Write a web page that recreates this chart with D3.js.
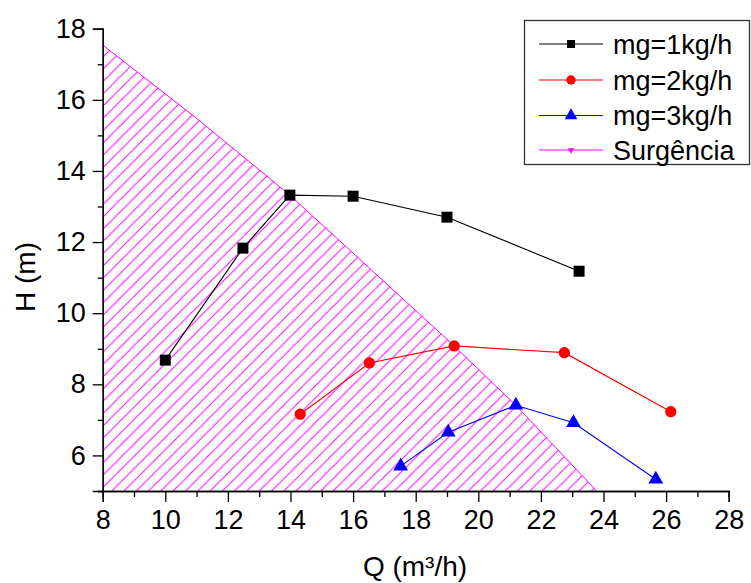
<!DOCTYPE html>
<html><head><meta charset="utf-8">
<script src="https://cdn.jsdelivr.net/npm/d3@7"></script>
<style>body{margin:0;background:#fff}svg{display:block}</style>
</head><body>
<svg id="c" width="751" height="583"></svg>
<script>
const xTicks = [8,10,12,14,16,18,20,22,24,26,28];
const yTicks = [6,8,10,12,14,16,18];
const seriesNames = ["mg=1kg/h","mg=2kg/h","mg=3kg/h","Surgência"];
const q1 = [10.0,12.48,13.98,16.0,19.0,23.22];
const h1 = [8.68,11.83,13.32,13.29,12.70,11.18];
const q2 = [14.31,16.52,19.23,22.75,26.15];
const h2 = [7.16,8.60,9.08,8.89,7.23];
const q3 = [17.52,19.04,21.2,23.04,25.67];
const h3 = [5.70,6.65,7.41,6.92,5.33];
const qS = [8.0,11.0,13.98,19.23,21.2,23.78];
const hS = [17.54,15.48,13.32,9.08,7.41,5.0];

const svg = d3.select("#c");
const font = "Liberation Sans, Arial, sans-serif";
const x = d3.scaleLinear().domain([8,28]).range([102.7,728.7]);
const y = d3.scaleLinear().domain([5,18]).range([491,28.7]);

// hatch pattern
const defs = svg.append("defs");
const w = 12.3;
const pat = defs.append("pattern").attr("id","hatch").attr("patternUnits","userSpaceOnUse")
  .attr("width",w).attr("height",w);
pat.append("path").attr("d",`M0,${w} L${w},0 M${-w/2},${w/2} L${w/2},${-w/2} M${w/2},${w*1.5} L${w*1.5},${w/2}`)
  .attr("stroke","#ff00ff").attr("stroke-width",1).attr("fill","none");

// area under surge line
const surge = qS.map((q,i)=>[q,hS[i]]);
const area = d3.area().x(d=>x(d[0])).y0(y(5)).y1(d=>y(d[1]));
svg.append("path").datum(surge).attr("d",area).attr("fill","url(#hatch)");
svg.append("path").datum(surge).attr("d",d3.line().x(d=>x(d[0])).y(d=>y(d[1])))
  .attr("fill","none").attr("stroke","#ff00ff").attr("stroke-width",1);

// axes
svg.append("g").attr("transform",`translate(0,${y(5)})`)
  .call(d3.axisBottom(x).tickValues(xTicks).tickSize(11).tickPadding(8).tickFormat(d3.format("d")));
svg.append("g").attr("transform",`translate(0,${y(5)})`)
  .call(d3.axisBottom(x).tickValues(d3.range(9,28,2)).tickSize(6).tickFormat(""));
svg.append("g").attr("transform",`translate(${x(8)},0)`)
  .call(d3.axisLeft(y).tickValues(yTicks).tickSize(10).tickPadding(7).tickFormat(d3.format("d")));
svg.append("g").attr("transform",`translate(${x(8)},0)`)
  .call(d3.axisLeft(y).tickValues(d3.range(5,18,1).filter(v=>v%2===1)).tickSize(5).tickFormat(""));
svg.selectAll(".domain").attr("stroke","#000").attr("stroke-width",1.3);
svg.selectAll(".tick line").attr("stroke","#000").attr("stroke-width",1.3);
svg.selectAll(".tick text").attr("font-family",font).attr("font-size",27).attr("fill","#000");

// titles
svg.append("text").attr("x",415).attr("y",576).attr("text-anchor","middle")
  .attr("font-family",font).attr("font-size",28).text("Q (m³/h)");
svg.append("text").attr("transform","translate(35,277) rotate(-90)").attr("text-anchor","middle")
  .attr("font-family",font).attr("font-size",28).text("H (m)");

// series
const colors = ["#000000","#ff0000","#0000ff","#ff00ff"];
const sym = [d3.symbolSquare,d3.symbolCircle,d3.symbolTriangle,d3.symbolTriangle];
const sizes = [121,100,95,20];
const data = [[q1,h1],[q2,h2],[q3,h3]];
data.forEach((s,k)=>{
  const pts = s[0].map((q,i)=>[q,s[1][i]]);
  svg.append("path").datum(pts).attr("d",d3.line().x(d=>x(d[0])).y(d=>y(d[1])))
    .attr("fill","none").attr("stroke",colors[k]).attr("stroke-width",1.1);
  svg.selectAll(null).data(pts).enter().append("path")
    .attr("d",d3.symbol().type(sym[k]).size(sizes[k]))
    .attr("transform",d=>`translate(${x(d[0])},${y(d[1])})`)
    .attr("fill",colors[k]);
});

// legend
const lg = svg.append("g");
lg.append("rect").attr("x",524.5).attr("y",20.5).attr("width",225).attr("height",144)
  .attr("fill","#fff").attr("stroke","#333").attr("stroke-width",1.3);
const rowsY = [44,80,115.5,150];
const lsizes = [64,70,70,18];
seriesNames.forEach((n,k)=>{
  const ry = rowsY[k];
  lg.append("line").attr("x1",539).attr("x2",603).attr("y1",ry).attr("y2",ry)
    .attr("stroke",colors[k]).attr("stroke-width",1.1);
  lg.append("path").attr("d",d3.symbol().type(sym[k]).size(lsizes[k]))
    .attr("transform",`translate(571,${ry})${k===3?" rotate(180)":""}`).attr("fill",colors[k]);
  lg.append("text").attr("x",613).attr("y",ry+9.5).attr("font-family",font).attr("font-size",27)
    .text(n);
});
</script>
</body></html>
